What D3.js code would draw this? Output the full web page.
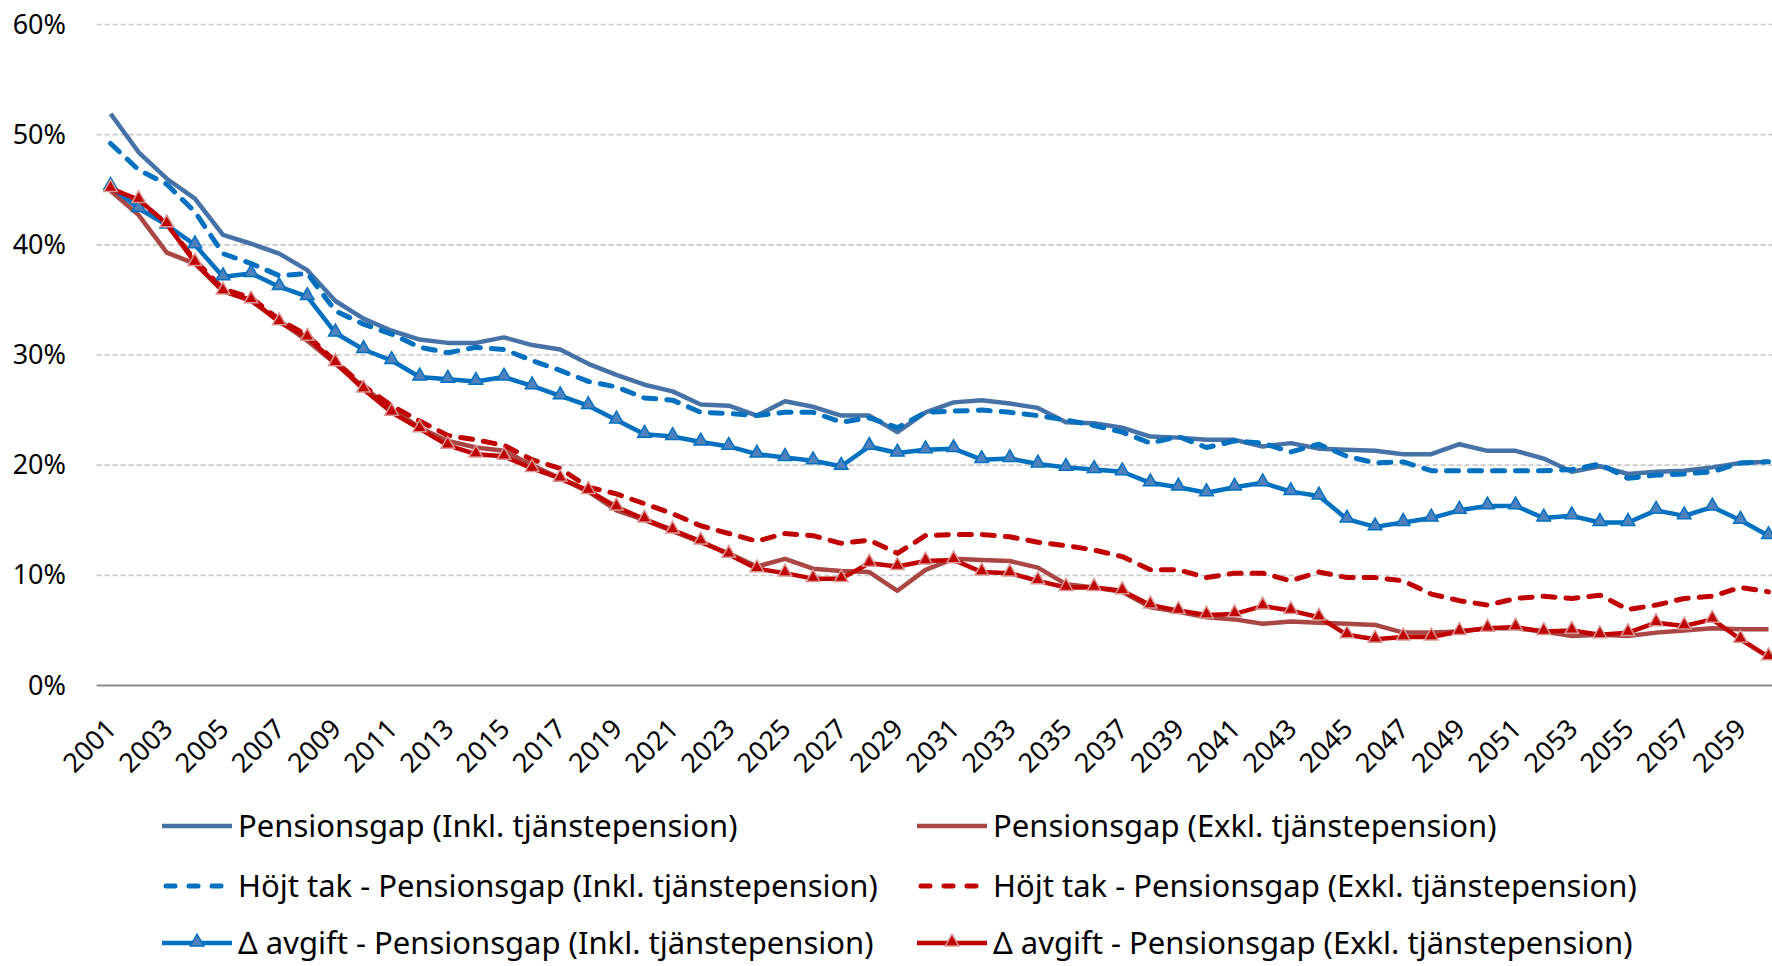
<!DOCTYPE html>
<html>
<head>
<meta charset="utf-8">
<script src="https://cdn.jsdelivr.net/npm/d3@7"></script>
<style>
  body { margin: 0; background: #fff; }
  svg { display: block; font-family: "Noto Sans", sans-serif; }
</style>
</head>
<body>
<div id="chart"></div>
<script>
// data (percent)
var years = d3.range(2001, 2061);
var yTicks = [0, 0.1, 0.2, 0.3, 0.4, 0.5, 0.6];

var inkl = [51.9, 48.4, 46.0, 44.2, 40.9, 40.1, 39.2, 37.7, 34.9, 33.3,
  32.2, 31.4, 31.1, 31.1, 31.6, 30.9, 30.5, 29.2, 28.2, 27.3,
  26.7, 25.5, 25.4, 24.5, 25.8, 25.3, 24.5, 24.5, 23.0, 24.8,
  25.7, 25.9, 25.6, 25.2, 23.9, 23.8, 23.4, 22.6, 22.5, 22.3,
  22.3, 21.7, 22.0, 21.5, 21.4, 21.3, 21.0, 21.0, 21.9, 21.3,
  21.3, 20.6, 19.4, 19.9, 19.2, 19.4, 19.5, 19.8, 20.2, 20.3];

var exkl = [44.9, 42.7, 39.3, 38.3, 35.8, 34.9, 33.1, 31.3, 29.2, 27.1,
  25.1, 23.4, 22.2, 21.6, 21.3, 20.0, 18.8, 17.6, 15.9, 15.0,
  14.0, 13.0, 12.0, 10.8, 11.5, 10.6, 10.4, 10.3, 8.6, 10.5,
  11.5, 11.4, 11.3, 10.7, 9.2, 8.9, 8.5, 7.1, 6.7, 6.2,
  6.0, 5.6, 5.8, 5.7, 5.6, 5.5, 4.8, 4.8, 4.9, 5.2,
  5.2, 4.9, 4.5, 4.6, 4.5, 4.8, 5.0, 5.2, 5.1, 5.1];

var hojtInkl = [49.2, 46.8, 45.5, 43.0, 39.2, 38.3, 37.2, 37.4, 34.0, 32.8,
  31.9, 30.7, 30.2, 30.7, 30.5, 29.5, 28.6, 27.6, 27.1, 26.1,
  25.9, 24.8, 24.7, 24.5, 24.8, 24.8, 23.9, 24.3, 23.4, 24.8,
  24.9, 25.0, 24.8, 24.5, 24.1, 23.6, 23.0, 22.0, 22.6, 21.6,
  22.2, 22.0, 21.2, 21.9, 20.8, 20.2, 20.3, 19.5, 19.5, 19.5,
  19.5, 19.5, 19.6, 20.1, 18.8, 19.1, 19.2, 19.4, 20.2, 20.3];

var hojtExkl = [45.1, 44.0, 41.9, 38.6, 36.0, 35.2, 33.2, 31.8, 29.4, 27.2,
  25.4, 24.0, 22.7, 22.3, 21.8, 20.5, 19.7, 18.0, 17.4, 16.5,
  15.6, 14.5, 13.8, 13.1, 13.8, 13.6, 12.9, 13.2, 12.0, 13.6,
  13.7, 13.7, 13.5, 13.0, 12.7, 12.3, 11.7, 10.5, 10.5, 9.8,
  10.2, 10.2, 9.5, 10.3, 9.8, 9.8, 9.5, 8.3, 7.7, 7.3,
  7.9, 8.1, 7.9, 8.2, 6.9, 7.3, 7.9, 8.1, 8.9, 8.5];

var avgiftInkl = [45.3, 43.3, 41.8, 40.0, 37.1, 37.4, 36.2, 35.3, 32.0, 30.5,
  29.5, 28.0, 27.8, 27.6, 28.0, 27.2, 26.3, 25.4, 24.1, 22.8,
  22.6, 22.1, 21.7, 21.0, 20.7, 20.4, 19.9, 21.7, 21.1, 21.4,
  21.5, 20.5, 20.6, 20.1, 19.8, 19.6, 19.4, 18.4, 18.0, 17.5,
  18.0, 18.4, 17.6, 17.2, 15.1, 14.4, 14.8, 15.2, 15.9, 16.3,
  16.3, 15.2, 15.4, 14.8, 14.8, 15.9, 15.4, 16.2, 15.0, 13.6];

var avgiftExkl = [45.1, 44.1, 41.9, 38.4, 35.8, 35.0, 33.0, 31.6, 29.3, 26.9,
  24.8, 23.3, 21.8, 21.0, 20.8, 19.7, 18.8, 17.7, 16.2, 15.1,
  14.1, 13.1, 11.9, 10.6, 10.2, 9.7, 9.7, 11.1, 10.8, 11.3,
  11.4, 10.3, 10.2, 9.5, 8.9, 8.9, 8.6, 7.3, 6.8, 6.4,
  6.5, 7.2, 6.8, 6.2, 4.6, 4.2, 4.4, 4.4, 4.9, 5.2,
  5.3, 4.9, 5.0, 4.6, 4.8, 5.7, 5.4, 6.0, 4.2, 2.6];

var seriesNames = [
  "Pensionsgap (Inkl. tjänstepension)",
  "Pensionsgap (Exkl. tjänstepension)",
  "Höjt tak - Pensionsgap (Inkl. tjänstepension)",
  "Höjt tak - Pensionsgap (Exkl. tjänstepension)",
  "Δ avgift - Pensionsgap (Inkl. tjänstepension)",
  "Δ avgift - Pensionsgap (Exkl. tjänstepension)"
];

// styles per series
var series = [
  { name: seriesNames[0], values: inkl, color: "#4572A7", dash: null, marker: false },
  { name: seriesNames[1], values: exkl, color: "#AA4643", dash: null, marker: false },
  { name: seriesNames[2], values: hojtInkl, color: "#0070C0", dash: "12,11", marker: false },
  { name: seriesNames[3], values: hojtExkl, color: "#C00000", dash: "12,11", marker: false },
  { name: seriesNames[4], values: avgiftInkl, color: "#0070C0", dash: null, marker: true, mFill: "#4F81BD", mStroke: "#0070C0" },
  { name: seriesNames[5], values: avgiftExkl, color: "#C00000", dash: null, marker: true, mFill: "#C00000", mStroke: "#D99694" }
];

var svgWidth = 1772;
var svgHeight = 966;

var svg = d3.select("#chart")
  .append("svg")
  .attr("width", svgWidth)
  .attr("height", svgHeight);

var plotLeft = 96.6;

// scales
var x = d3.scalePoint()
  .domain(years)
  .range([110.6, 110.6 + 59 * 28.1]);

var y = d3.scaleLinear()
  .domain([0, 0.6])
  .range([685.5, 24.5]);

// gridlines
svg.append("g")
  .selectAll("line")
  .data(yTicks.slice(1))
  .enter()
  .append("line")
  .attr("x1", plotLeft)
  .attr("x2", svgWidth)
  .attr("y1", d => y(d))
  .attr("y2", d => y(d))
  .attr("stroke", "#C9C9C9")
  .attr("stroke-width", 1.6)
  .attr("stroke-dasharray", "5,3");

// y axis labels
var yAxis = d3.axisLeft(y)
  .tickValues(yTicks)
  .tickFormat(d3.format(".0%"))
  .tickSize(0)
  .tickPadding(0);

var yG = svg.append("g")
  .attr("transform", "translate(66,0)")
  .call(yAxis);
yG.select(".domain").remove();
yG.selectAll("text")
  .style("font-size", "27px")
  .style("font-family", "'Noto Sans', sans-serif")
  .attr("fill", "#000");

// x axis
var xAxis = d3.axisBottom(x)
  .tickValues(years.filter(d => d % 2 === 1))
  .tickSize(0);

var xG = svg.append("g")
  .attr("transform", `translate(0, ${y(0)})`)
  .call(xAxis);
xG.select(".domain").remove();
xG.selectAll("text")
  .attr("x", null)
  .attr("y", null)
  .attr("dy", null)
  .style("text-anchor", "end")
  .style("font-size", "27px")
  .style("font-family", "'Noto Sans', sans-serif")
  .attr("fill", "#000")
  .attr("transform", "translate(7,45) rotate(-45)");

svg.append("line")
  .attr("x1", plotLeft)
  .attr("x2", svgWidth)
  .attr("y1", y(0))
  .attr("y2", y(0))
  .attr("stroke", "#8C8C8C")
  .attr("stroke-width", 2);

// lines
var line = d3.line()
  .x((d, i) => x(years[i]))
  .y(d => y(d / 100));

var tri = d3.symbol().type(d3.symbolTriangle).size(80);

series.forEach(s => {
  svg.append("path")
    .datum(s.values)
    .attr("fill", "none")
    .attr("stroke", s.color)
    .attr("stroke-width", s.dash ? 5 : 4.5)
    .attr("stroke-linejoin", "round")
    .attr("stroke-linecap", s.dash ? "round" : "butt")
    .attr("stroke-dasharray", s.dash)
    .attr("d", line);

  if (s.marker) {
    svg.append("g")
      .selectAll("path")
      .data(s.values)
      .enter()
      .append("path")
      .attr("transform", (d, i) => `translate(${x(years[i])}, ${y(d / 100) - 1})`)
      .attr("d", tri)
      .attr("fill", s.mFill)
      .attr("stroke", s.mStroke)
      .attr("stroke-width", 1.5);
  }
});

// legend, 3 rows x 2 columns
var legendPos = [
  [162, 826], [917, 826],
  [162, 886], [917, 886],
  [162, 943], [917, 943]
];

series.forEach((s, i) => {
  var p = legendPos[i];
  var g = svg.append("g").attr("transform", `translate(${p[0]}, ${p[1]})`);
  if (s.dash) {
    g.append("line")
      .attr("x1", 4).attr("x2", 68)
      .attr("stroke", s.color)
      .attr("stroke-width", 5)
      .attr("stroke-linecap", "round")
      .attr("stroke-dasharray", "9,14");
  } else {
    g.append("line")
      .attr("x1", 0).attr("x2", 70)
      .attr("stroke", s.color)
      .attr("stroke-width", 4.5);
  }
  if (s.marker) {
    g.append("path")
      .attr("transform", "translate(35,-1)")
      .attr("d", tri)
      .attr("fill", s.mFill)
      .attr("stroke", s.mStroke)
      .attr("stroke-width", 1.5);
  }
  g.append("text")
    .attr("x", 76)
    .attr("dy", "0.35em")
    .style("font-size", "31px")
    .attr("fill", "#000")
    .text(s.name);
});
</script>
</body>
</html>
